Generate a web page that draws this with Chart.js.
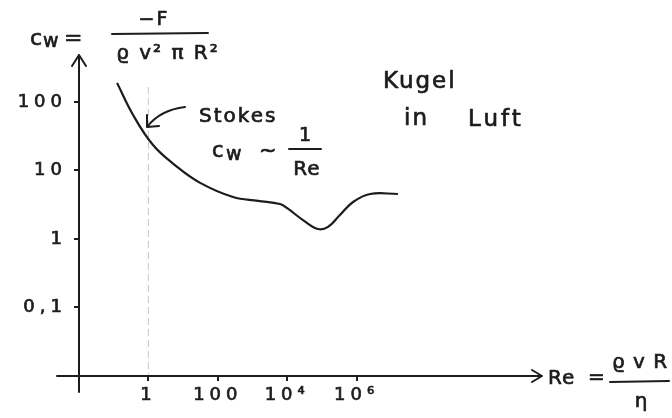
<!DOCTYPE html>
<html>
<head>
<meta charset="utf-8">
<script src="https://cdn.jsdelivr.net/npm/chart.js@4.4.0/dist/chart.umd.min.js"></script>
<style>
  body { margin: 0; background: #fff; }
  #wrap { width: 672px; height: 418px; }
</style>
</head>
<body>
<div id="wrap"><canvas id="chart"></canvas></div>
<script>
// drag curve of a sphere in air
const reValues = [0.125, 0.36, 1.36, 5.8, 31, 275, 1450, 6200, 9800, 28500, 77000, 150000, 330000, 790000, 2.45e6, 1.55e7];
const cwValues = [190, 65, 23.5, 12, 6.6, 4.1, 3.6, 3.24, 2.84, 1.89, 1.40, 1.50, 2.24, 3.47, 4.54, 4.54];

const xTickValues = [1, 100, 1e4, 1e6];
const xTickLabels = ["1", "100", "10⁴", "10⁶"];
const yTickValues = [0.1, 1, 10, 100];
const yTickLabels = ["0,1", "1", "10", "100"];

const ink = "#1c1c1c";
const font = "'DejaVu Sans', sans-serif";

function write(ctx, str, x, y, size, spacing, align) {
  ctx.font = size + "px " + font;
  ctx.letterSpacing = (spacing || 0) + "px";
  ctx.textAlign = align || "left";
  ctx.fillText(str, x, y);
  ctx.lineWidth = 0.7;
  ctx.strokeText(str, x, y);
  ctx.lineWidth = 2;
  ctx.letterSpacing = "0px";
}

// axes with arrows, the faint line at Re = 1 and the handwritten notes
const sketchPlugin = {
  id: "sketch",
  beforeDraw(chart) {
    // wide, hand-lettered look for the tick labels
    chart.ctx.letterSpacing = "5px";
  },
  beforeDatasetsDraw(chart) {
    const { ctx, chartArea: a, scales } = chart;
    const x1 = scales.x.getPixelForValue(1);
    ctx.save();
    ctx.strokeStyle = "#c8c8c8";
    ctx.lineWidth = 1;
    ctx.setLineDash([7, 4]);
    ctx.beginPath();
    ctx.moveTo(x1, a.top + 32);
    ctx.lineTo(x1, a.bottom);
    ctx.stroke();
    ctx.restore();
  },
  afterDraw(chart) {
    const { ctx, chartArea: a } = chart;
    ctx.save();
    ctx.strokeStyle = ink;
    ctx.fillStyle = ink;
    ctx.lineWidth = 2;
    ctx.lineCap = "round";
    ctx.lineJoin = "round";
    // y axis
    ctx.beginPath();
    ctx.moveTo(a.left, a.bottom + 16);
    ctx.lineTo(a.left, a.top);
    ctx.moveTo(a.left - 7, a.top + 11);
    ctx.lineTo(a.left, a.top);
    ctx.lineTo(a.left + 7, a.top + 11);
    // x axis
    ctx.moveTo(a.left - 22, a.bottom);
    ctx.lineTo(a.right, a.bottom);
    ctx.moveTo(a.right - 10, a.bottom - 6);
    ctx.lineTo(a.right, a.bottom);
    ctx.lineTo(a.right - 10, a.bottom + 6);
    ctx.stroke();

    // Stokes arrow
    ctx.beginPath();
    ctx.moveTo(185, 107);
    ctx.quadraticCurveTo(160, 110, 147, 127);
    ctx.moveTo(147, 115);
    ctx.lineTo(147, 127);
    ctx.lineTo(159, 126);
    ctx.stroke();

    ctx.textBaseline = "middle";
    // c_w = -F / (rho v^2 pi R^2)
    write(ctx, "c", 30, 39, 22);
    write(ctx, "w", 43, 42, 19);
    write(ctx, "=", 64, 39, 22);
    ctx.beginPath();
    ctx.moveTo(112, 34);
    ctx.lineTo(208, 33);
    ctx.stroke();
    write(ctx, "−F", 154, 20, 19, 2, "center");
    write(ctx, "ϱ v² π R²", 168, 54, 20, 2, "center");

    // Stokes, c_w ~ 1/Re
    write(ctx, "Stokes", 199, 117, 20, 2);
    write(ctx, "c", 212, 152, 21);
    write(ctx, "w", 226, 155, 19);
    write(ctx, "~", 259, 152, 21);
    ctx.beginPath();
    ctx.moveTo(289, 149);
    ctx.lineTo(321, 149);
    ctx.stroke();
    write(ctx, "1", 305, 136, 19, 0, "center");
    write(ctx, "Re", 307, 170, 20, 1, "center");

    // Kugel in Luft
    write(ctx, "Kugel", 383, 82, 23, 2);
    write(ctx, "in", 404, 119, 23, 2);
    write(ctx, "Luft", 468, 120, 23, 3);

    // Re = rho v R / eta
    write(ctx, "Re", 548, 379, 20, 1);
    write(ctx, "=", 588, 378, 20);
    ctx.beginPath();
    ctx.moveTo(610, 382);
    ctx.lineTo(669, 381);
    ctx.stroke();
    write(ctx, "ϱ v R", 640, 363, 20, 1, "center");
    write(ctx, "η", 641, 402, 20, 0, "center");
    ctx.restore();
  }
};

new Chart(document.getElementById("chart"), {
  type: "line",
  data: {
    datasets: [{
      data: reValues.map((re, i) => ({ x: re, y: cwValues[i] })),
      borderColor: ink,
      borderWidth: 2.2,
      pointRadius: 0,
      tension: 0.4,
      fill: false
    }]
  },
  options: {
    responsive: true,
    maintainAspectRatio: false,
    animation: false,
    layout: { padding: { top: 55, right: 130, left: 0, bottom: 0 } },
    plugins: { legend: { display: false }, tooltip: { enabled: false } },
    scales: {
      x: {
        type: "logarithmic",
        min: 0.01,
        max: 2.2e11,
        afterFit: (s) => { s.height = 42; },
        afterBuildTicks: (s) => { s.ticks = xTickValues.map((v) => ({ value: v })); },
        border: { display: false },
        grid: { drawOnChartArea: false, drawTicks: true, tickLength: 5, color: ink, lineWidth: 2 },
        ticks: {
          autoSkip: false,
          maxRotation: 0,
          padding: 4,
          color: ink,
          textStrokeColor: ink,
          textStrokeWidth: 0.7,
          font: { family: font, size: 18 },
          callback: (v) => xTickLabels[xTickValues.indexOf(v)]
        }
      },
      y: {
        type: "logarithmic",
        min: 0.01,
        max: 485,
        afterFit: (s) => { s.width = 79; },
        afterBuildTicks: (s) => { s.ticks = yTickValues.map((v) => ({ value: v })); },
        border: { display: false },
        grid: { drawOnChartArea: false, drawTicks: true, tickLength: 5, color: ink, lineWidth: 2 },
        ticks: {
          autoSkip: false,
          padding: 7,
          color: ink,
          textStrokeColor: ink,
          textStrokeWidth: 0.7,
          font: { family: font, size: 18 },
          callback: (v) => yTickLabels[yTickValues.indexOf(v)]
        }
      }
    }
  },
  plugins: [sketchPlugin]
});
</script>
</body>
</html>
